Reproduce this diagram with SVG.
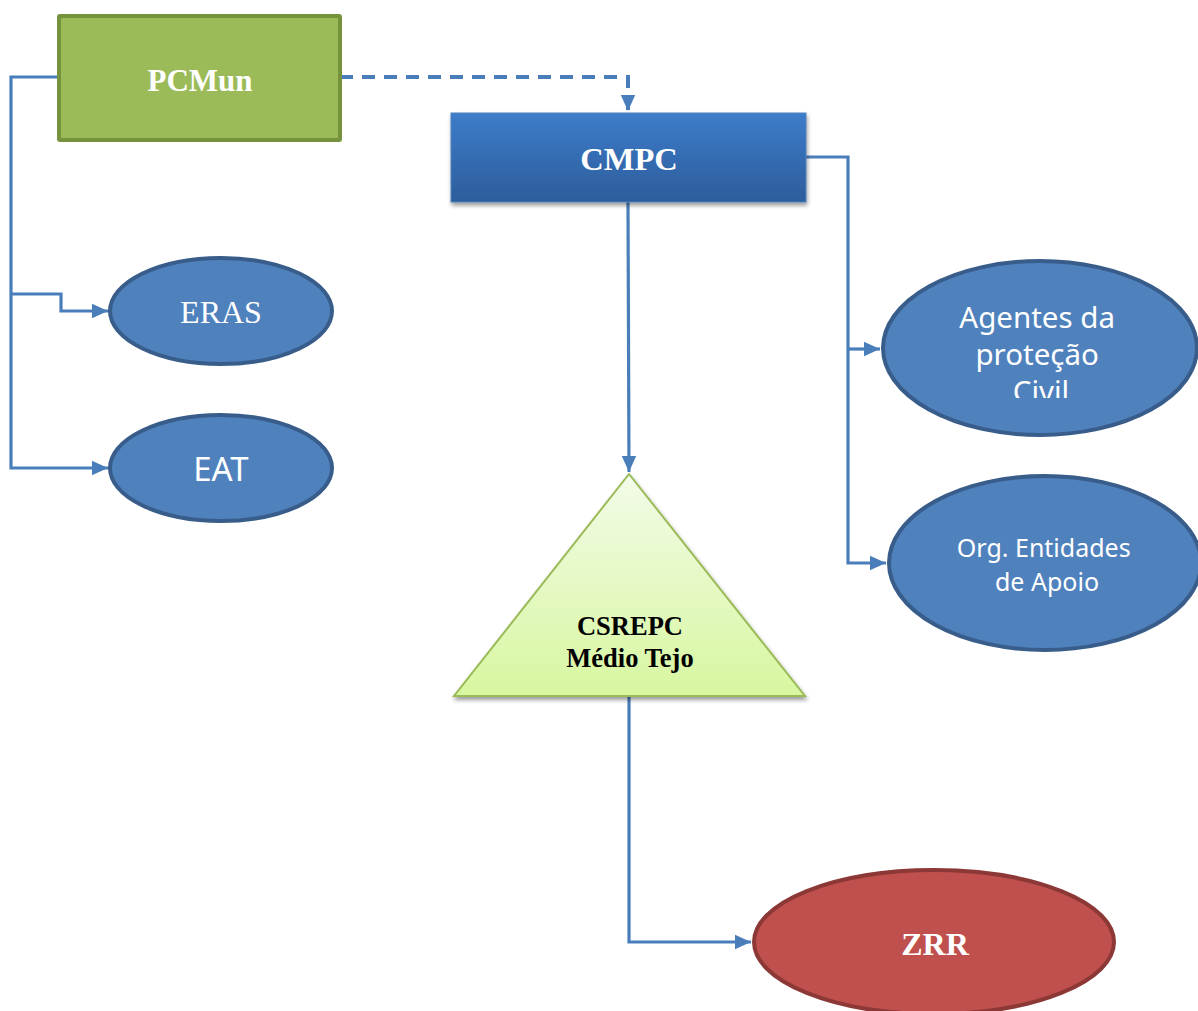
<svg xmlns="http://www.w3.org/2000/svg" width="1198" height="1011" viewBox="0 0 1198 1011">
<style>
.conn{fill:none;stroke:#4A7EBB;stroke-width:3.2}
.dash{stroke-width:4;stroke-dasharray:13,9}
.blue{fill:#4F81BD;stroke:#385D8A;stroke-width:4}
.wserif{font-family:"Liberation Serif",serif;fill:#fff}
.wsans{font-family:"Noto Sans","DejaVu Sans",sans-serif;fill:#fff}
</style>
<defs>
<marker id="arr" viewBox="0 0 10 10" refX="10" refY="5" markerWidth="16" markerHeight="16" orient="auto" markerUnits="userSpaceOnUse">
<path d="M0,0.5 L10,5 L0,9.5 z" fill="#4A7EBB"/>
</marker>
<linearGradient id="gBlue" x1="0" y1="0" x2="0" y2="1">
<stop offset="0" stop-color="#3D7CCA"/>
<stop offset="1" stop-color="#2C5D9B"/>
</linearGradient>
<linearGradient id="gGreen" x1="0" y1="0" x2="0" y2="1">
<stop offset="0" stop-color="#F3FBE8"/>
<stop offset="1" stop-color="#D7F7A0"/>
</linearGradient>
<filter id="sh" x="-10%" y="-10%" width="130%" height="130%">
<feGaussianBlur in="SourceAlpha" stdDeviation="2"/>
<feOffset dx="1" dy="3"/>
<feComponentTransfer><feFuncA type="linear" slope="0.4"/></feComponentTransfer>
<feMerge><feMergeNode/><feMergeNode in="SourceGraphic"/></feMerge>
</filter>
<clipPath id="clipAg"><rect x="880" y="260" width="318" height="138"/></clipPath>
</defs>
<rect width="1198" height="1011" fill="#fff"/>
<g id="connectors">
<path class="conn dash" d="M340,77 H628 V111" marker-end="url(#arr)"/>
<path class="conn" d="M58,77 H11 V468 H108" marker-end="url(#arr)"/>
<path class="conn" d="M11,294 H61 V311 H108" marker-end="url(#arr)"/>
<path class="conn" d="M628,202 L629,472" marker-end="url(#arr)"/>
<path class="conn" d="M806,157 H848 V563 H886" marker-end="url(#arr)"/>
<path class="conn" d="M848,349 H880" marker-end="url(#arr)"/>
<path class="conn" d="M629,696 V942 H751" marker-end="url(#arr)"/>
</g>
<g id="PCMun">
<rect x="59" y="16" width="281" height="124" fill="#9BBB59" stroke="#76923C" stroke-width="4" rx="1"/>
<text x="200" y="91" text-anchor="middle" class="wserif" font-size="31" font-weight="bold">PCMun</text>
</g>
<g id="CMPC">
<rect x="451" y="113" width="355" height="89" fill="url(#gBlue)" stroke="#4F81BD" stroke-width="1" filter="url(#sh)"/>
<text x="629" y="170" text-anchor="middle" class="wserif" font-size="32.5" font-weight="bold">CMPC</text>
</g>
<g id="CSREPC">
<polygon points="629,474 805,696 454,696" fill="url(#gGreen)" stroke="#9BBB59" stroke-width="2" filter="url(#sh)"/>
<text x="630" y="635" text-anchor="middle" font-family="Liberation Serif,serif" font-size="26.5" font-weight="bold" fill="#000">CSREPC</text>
<text x="630" y="667" text-anchor="middle" font-family="Liberation Serif,serif" font-size="26.5" font-weight="bold" fill="#000">Médio Tejo</text>
</g>
<g id="ERAS">
<ellipse cx="221" cy="311" rx="111" ry="53" class="blue"/>
<text x="221" y="323" text-anchor="middle" class="wserif" font-size="32">ERAS</text>
</g>
<g id="EAT">
<ellipse cx="221" cy="468" rx="111" ry="53" class="blue"/>
<text x="221" y="481" text-anchor="middle" class="wsans" font-size="33">EAT</text>
</g>
<g id="Agentes">
<ellipse cx="1040" cy="348" rx="157" ry="87" class="blue"/>
<g clip-path="url(#clipAg)">
<text text-anchor="middle" class="wsans" font-size="29.5">
<tspan x="1041" y="328">Agentes da</tspan>
<tspan x="1041" y="365">proteção</tspan>
<tspan x="1041" y="402">Civil</tspan>
</text>
</g>
</g>
<g id="OrgEntidades">
<ellipse cx="1045" cy="563" rx="156" ry="87" class="blue"/>
<text text-anchor="middle" class="wsans" font-size="25">
<tspan x="1047" y="557">Org. Entidades</tspan>
<tspan x="1047" y="591">de Apoio</tspan>
</text>
</g>
<g id="ZRR">
<ellipse cx="934" cy="942" rx="180" ry="72" fill="#C0504D" stroke="#8C3836" stroke-width="4"/>
<text x="935" y="955" text-anchor="middle" class="wserif" font-size="32" font-weight="bold">ZRR</text>
</g>
</svg>
